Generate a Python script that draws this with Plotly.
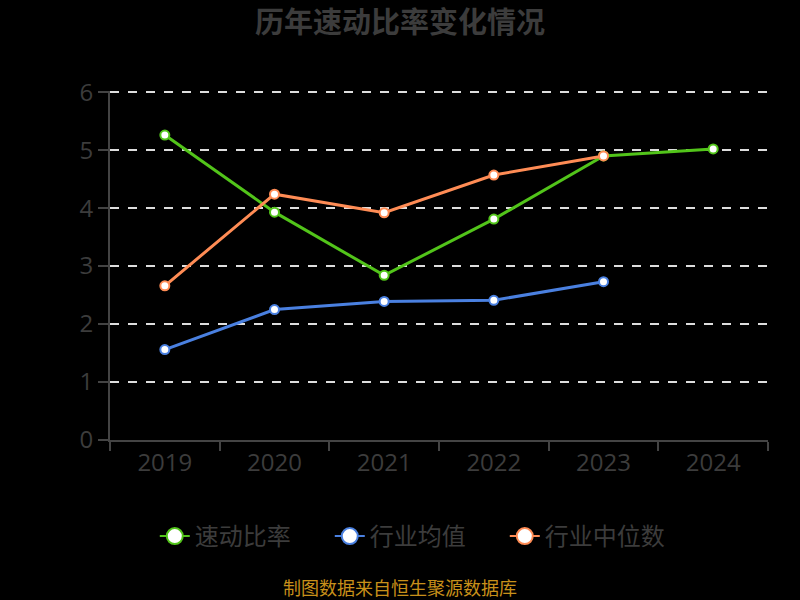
import plotly.graph_objects as go

years = ["2019", "2020", "2021", "2022", "2023", "2024"]
quick_ratio = [5.26, 3.93, 2.84, 3.81, 4.90, 5.02]
industry_mean = [1.56, 2.25, 2.39, 2.41, 2.73]
industry_median = [2.66, 4.24, 3.92, 4.57, 4.90]

FONT = "Noto Sans CJK SC, Open Sans, sans-serif"
TEXT = "#3c3c3c"


def line_traces(name, y, color):
    # plotted series, plus a legend-only twin with a bigger marker
    data = go.Scatter(
        x=years[:len(y)], y=y, name=name, mode="lines+markers", legendgroup=name,
        showlegend=False, line=dict(color=color, width=3),
        marker=dict(size=9, color="white", line=dict(color=color, width=2)),
    )
    legend = go.Scatter(
        x=[None], y=[None], name=name, mode="lines+markers", legendgroup=name,
        line=dict(color=color, width=2),
        marker=dict(size=20, color="white", line=dict(color=color, width=2)),
    )
    return [data, legend]


fig = go.Figure(
    line_traces("速动比率", quick_ratio, "#52c41a")
    + line_traces("行业均值", industry_mean, "#4a80e0")
    + line_traces("行业中位数", industry_median, "#ff8c55")
)

fig.update_layout(
    width=800, height=600,
    paper_bgcolor="black", plot_bgcolor="black",
    margin=dict(l=110, r=32, t=91, b=160),
    font=dict(family=FONT, color=TEXT, size=20),
    title=dict(text="<b>历年速动比率变化情况</b>", x=0.5, xanchor="center",
               y=0.962, yanchor="middle", font=dict(size=29, color=TEXT)),
    showlegend=True,
    legend=dict(orientation="h", x=0.467, xanchor="center", y=-0.212, yanchor="top",
                font=dict(size=24, color=TEXT), entrywidth=130, entrywidthmode="pixels"),
    # footer is centred on the page, not on the plot area
    annotations=[dict(text="制图数据来自恒生聚源数据库", xref="paper", yref="paper",
                      x=0.441, y=-0.422, xanchor="center", yanchor="middle",
                      showarrow=False, font=dict(size=18, color="#c8901a"))],
)
fig.update_xaxes(
    type="category", showgrid=False, showline=True, linecolor="#444444", linewidth=2,
    ticks="outside", ticklen=9, tickcolor="#444444", tickwidth=2, tickson="boundaries",
    tickfont=dict(family="Open Sans", size=24, color=TEXT), range=[-0.5, 5.5],
)
fig.update_yaxes(
    range=[0, 6.02], tickvals=[0, 1, 2, 3, 4, 5, 6], showgrid=True,
    gridcolor="#dddddd", griddash="dash", gridwidth=2, zeroline=False,
    showline=True, linecolor="#444444", linewidth=2,
    ticks="outside", ticklen=10, tickcolor="#444444", tickwidth=2,
    tickfont=dict(family="Open Sans", size=24, color=TEXT),
)

fig.write_html("out.html", config={"displayModeBar": False},
               post_script="document.body.style.margin='0';")
